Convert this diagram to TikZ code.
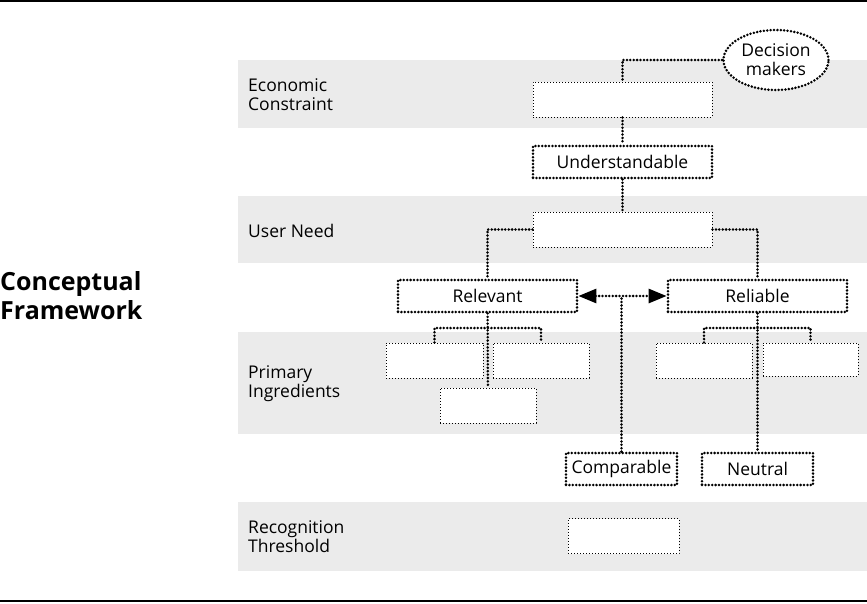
\documentclass[tikz,border=0pt]{standalone}
\usepackage{fontspec}
\setmainfont{Open Sans}
\usetikzlibrary{positioning,shapes.geometric,arrows.meta}

\begin{document}
\begin{tikzpicture}[x=1pt,y=-1pt,
  every node/.style={font=\fontsize{17.5}{19}\selectfont},
  emptybox/.style={rectangle, draw, fill=white, line width=1pt, dash pattern=on 1pt off 2pt, minimum height=35pt, inner sep=0},
  namebox/.style={rectangle, draw, fill=white, line width=2.8pt, dash pattern=on 0pt off 3.4pt, line cap=round, minimum height=32pt, inner sep=0},
  link/.style={line width=2.8pt, dash pattern=on 0pt off 3.4pt, line cap=round},
  band/.style={fill=black!8},
  rowlabel/.style={anchor=west, align=left, inner sep=0},
  >={Triangle[length=18pt,width=14pt]}
]
\useasboundingbox (0,0) rectangle (867,603);
% rules and bands
\draw[line width=2pt] (0,1) -- (867,1);
\draw[line width=2pt] (0,601) -- (867,601);
\fill[band] (238,60) rectangle (867,128);
\fill[band] (238,196) rectangle (867,263);
\fill[band] (238,332) rectangle (867,434);
\fill[band] (238,502) rectangle (867,571);
% labels
\node[rowlabel, font=\bfseries\fontsize{25}{29}\selectfont] (title) at (0,296) {Conceptual\\Framework};
\node[rowlabel] (lecon) at (248,95) {Economic\\Constraint};
\node[rowlabel] (lneed) at (248,231) {User Need};
\node[rowlabel] (lprim) at (248,384) {Primary\\Ingredients};
\node[rowlabel] (lrecog) at (248,537) {Recognition\\Threshold};
% boxes
\node[emptybox, minimum width=179pt] (econ) at (622.5,99.5) {};
\node[namebox, minimum width=179pt] (underst) at (622.5,162) {Understandable};
\node[emptybox, minimum width=179pt] (need) at (622.5,229.5) {};
\node[namebox, minimum width=179pt] (relev) at (487.5,296) {Relevant};
\node[namebox, minimum width=179pt] (reliab) at (757.5,296) {Reliable};
\node[emptybox, minimum width=97pt] (relevA) at (434.5,360.5) {};
\node[emptybox, minimum width=96pt] (relevB) at (541,360.5) {};
\node[emptybox, minimum width=96pt] (relevC) at (488,405.5) {};
\node[emptybox, minimum width=96pt] (reliabA) at (704,360.5) {};
\node[emptybox, minimum width=95pt, minimum height=33pt] (reliabB) at (810.5,359.5) {};
\node[namebox, minimum width=111pt] (compar) at (621.5,469) {Comparable};
\node[namebox, minimum width=111pt] (neutr) at (757.5,469) {Neutral};
\node[emptybox, minimum width=111pt] (recog) at (623.5,536) {};
\node[ellipse, draw, fill=white, link, minimum width=105pt, minimum height=60pt, align=center, inner sep=0] (dm) at (776,60) {Decision\\makers};
% links
\coordinate (relevfork) at (488,328);
\coordinate (reliabfork) at (757,328);
\coordinate (mid) at (compar.north |- relev.east);
\draw[link] (dm.west) -| (econ.north);
\draw[link] (econ) -- (underst);
\draw[link] (underst) -- (need);
\draw[link] (need.west) -| (relev.north);
\draw[link] (need.east) -| (reliab.north);
\draw[link, <->] (relev) -- (reliab);
\draw[link] (compar) -- (mid);
\draw[link] (relev) -- (relevC);
\draw[link] (relevA.north) |- (relevfork) -| (relevB.north);
\draw[link] (reliab) -- (neutr);
\draw[link] (reliabA.north) |- (reliabfork) -| (reliabB.north);
\end{tikzpicture}
\end{document}
